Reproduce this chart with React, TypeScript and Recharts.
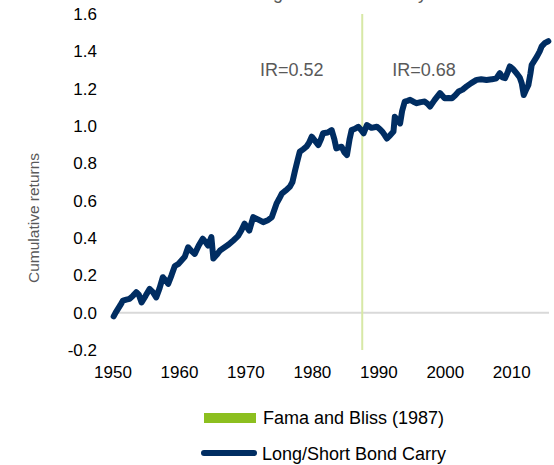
import React from "react";
import { LineChart, Line, XAxis, YAxis, ReferenceLine, ReferenceDot, Legend, Label } from "recharts";

const years = [
  1950.1, 1950.4, 1950.75, 1951.1, 1951.5, 1952.0, 1952.5, 1953.0, 1953.5, 1953.9, 1954.3, 1954.9, 1955.5, 1956.0, 1956.5,
  1957.0, 1957.5, 1958.0, 1958.3, 1958.8, 1959.3, 1959.8, 1960.3, 1960.8, 1961.3, 1961.8, 1962.3, 1962.9, 1963.5, 1964.0,
  1964.3, 1964.8, 1965.1, 1965.6, 1966.1, 1966.8, 1967.4, 1968.1, 1968.8, 1969.3, 1969.8, 1970.5, 1971.1, 1971.8, 1972.6,
  1973.3, 1973.9, 1974.6, 1975.0, 1975.4, 1976.0, 1976.6, 1977.0, 1977.4, 1977.8, 1978.1, 1978.6, 1979.1, 1979.5, 1979.9,
  1980.4, 1980.9, 1981.3, 1981.6, 1982.3, 1982.9, 1983.3, 1983.6, 1984.0, 1984.4, 1984.8, 1985.2, 1985.6, 1985.9, 1986.4,
  1986.9, 1987.3, 1987.7, 1988.2, 1988.9, 1989.7, 1990.1, 1990.5, 1990.9, 1991.2, 1991.7, 1992.2, 1992.4, 1992.8, 1993.2,
  1993.5, 1993.9, 1994.3, 1994.7, 1995.2, 1995.7, 1996.3, 1996.9, 1997.3, 1997.7, 1998.4, 1999.2, 1999.9, 2000.5, 2001.0,
  2001.5, 2002.0, 2002.6, 2003.2, 2003.9, 2004.7, 2005.4, 2006.2, 2007.0, 2007.7, 2008.2, 2008.6, 2009.0, 2009.4, 2009.7,
  2010.2, 2010.7, 2011.2, 2011.5, 2011.8, 2012.1, 2012.5, 2012.8, 2013.0, 2013.4, 2013.8, 2014.2, 2014.5, 2015.0, 2015.5,
];

const returns = [
  -0.02, 0.0, 0.02, 0.04, 0.065, 0.07, 0.074, 0.09, 0.11, 0.095, 0.055, 0.09, 0.127, 0.11, 0.082,
  0.13, 0.19, 0.17, 0.154, 0.2, 0.25, 0.26, 0.28, 0.3, 0.35, 0.33, 0.315, 0.36, 0.396, 0.375,
  0.36, 0.405, 0.29, 0.31, 0.333, 0.35, 0.365, 0.387, 0.41, 0.44, 0.477, 0.44, 0.512, 0.5, 0.485,
  0.495, 0.512, 0.584, 0.61, 0.638, 0.655, 0.674, 0.7, 0.763, 0.82, 0.862, 0.875, 0.889, 0.91, 0.943,
  0.92, 0.898, 0.93, 0.961, 0.965, 0.978, 0.93, 0.88, 0.885, 0.889, 0.86, 0.844, 0.93, 0.978, 0.985,
  0.996, 0.98, 0.961, 1.005, 0.99, 0.996, 0.985, 0.97, 0.95, 0.933, 0.95, 0.97, 1.05, 1.03, 1.014,
  1.08, 1.131, 1.135, 1.14, 1.13, 1.122, 1.128, 1.131, 1.12, 1.104, 1.14, 1.176, 1.149, 1.15, 1.149,
  1.165, 1.185, 1.195, 1.212, 1.23, 1.247, 1.25, 1.247, 1.25, 1.256, 1.283, 1.26, 1.256, 1.29, 1.319,
  1.305, 1.283, 1.26, 1.229, 1.166, 1.19, 1.22, 1.28, 1.328, 1.35, 1.373, 1.4, 1.427, 1.445, 1.454,
];

const xTicks = [1950, 1960, 1970, 1980, 1990, 2000, 2010];
const yTicks = [-0.2, 0, 0.2, 0.4, 0.6, 0.8, 1.0, 1.2, 1.4, 1.6];
const famaBlissYear = 1987.5;
const irLabels = [
  { year: 1976.9, value: 1.3, text: "IR=0.52" },
  { year: 1996.8, value: 1.3, text: "IR=0.68" },
];
const seriesName = "Long/Short Bond Carry";
const famaName = "Fama and Bliss (1987)";
const yLabel = "Cumulative returns";
const title = "Long/Short Bond Carry";

const data = years.map((y, i) => ({ year: y, value: returns[i] }));

const FONT = '"Liberation Sans", Arial, sans-serif';
const NAVY = "#002D62";
const GREEN = "#8CBF1F";
const PALE_GREEN = "#D7E8A6";

const LegendContent = () => (
  <svg width={554} height={70} style={{ display: "block", fontFamily: FONT }}>
    <rect x={204} y={18} width={52} height={10} fill={GREEN} />
    <text x={263} y={23} dy="0.35em" fontSize={18} fill="#000">
      {famaName}
    </text>
    <line x1={204} y1={58} x2={254} y2={58} stroke={NAVY} strokeWidth={6} strokeLinecap="round" />
    <text x={262} y={59} dy="0.35em" fontSize={18} fill="#000">
      {seriesName}
    </text>
  </svg>
);

export default function App() {
  return (
    <div style={{ position: "absolute", left: 0, top: 0, width: 554, height: 465, background: "#fff", fontFamily: FONT }}>
      <LineChart width={554} height={465} data={data} margin={{ top: 14, right: 5, bottom: 85, left: 0 }}>
        <XAxis
          dataKey="year"
          type="number"
          domain={[1950, 2015.6]}
          ticks={xTicks}
          axisLine={false}
          tickLine={false}
          tickSize={0}
          tickMargin={16}
          height={30}
          tick={{ fontSize: 17, fill: "#000", fontFamily: FONT }}
          interval={0}
        />
        <YAxis
          type="number"
          domain={[-0.2, 1.6]}
          ticks={yTicks}
          axisLine={false}
          tickLine={false}
          tickSize={0}
          tickMargin={16}
          width={113}
          tick={{ fontSize: 17, fill: "#000", fontFamily: FONT }}
          tickFormatter={(v: number) => v.toFixed(1)}
          interval={0}
        >
          <Label
            content={() => (
              <g>
                <text
                  x={33}
                  y={218}
                  transform="rotate(-90, 33, 218)"
                  textAnchor="middle"
                  dominantBaseline="central"
                  fontSize={15.5}
                  fill="#595959"
                  fontFamily={FONT}
                >
                  {yLabel}
                </text>
                <text x={335} y={-1} textAnchor="middle" fontSize={18} fill="#595959" fontFamily={FONT}>
                  {title}
                </text>
              </g>
            )}
          />
        </YAxis>
        <ReferenceLine y={0} stroke="#D9D9D9" strokeWidth={2} />
        <ReferenceLine x={famaBlissYear} stroke={PALE_GREEN} strokeWidth={2} />
        {irLabels.map((l) => (
          <ReferenceDot
            key={l.text}
            x={l.year}
            y={l.value}
            r={0}
            stroke="none"
            fill="none"
            label={{ value: l.text, position: "center", fill: "#595959", fontSize: 18, fontFamily: FONT }}
          />
        ))}
        <Line
          type="linear"
          dataKey="value"
          name={seriesName}
          stroke={NAVY}
          strokeWidth={6}
          strokeLinejoin="round"
          strokeLinecap="round"
          dot={false}
          activeDot={false}
          isAnimationActive={false}
        />
        <Legend
          layout="horizontal"
          verticalAlign="middle"
          align="center"
          wrapperStyle={{ top: 395, left: 0, width: 554, height: 70 }}
          content={() => <LegendContent />}
        />
      </LineChart>
    </div>
  );
}
